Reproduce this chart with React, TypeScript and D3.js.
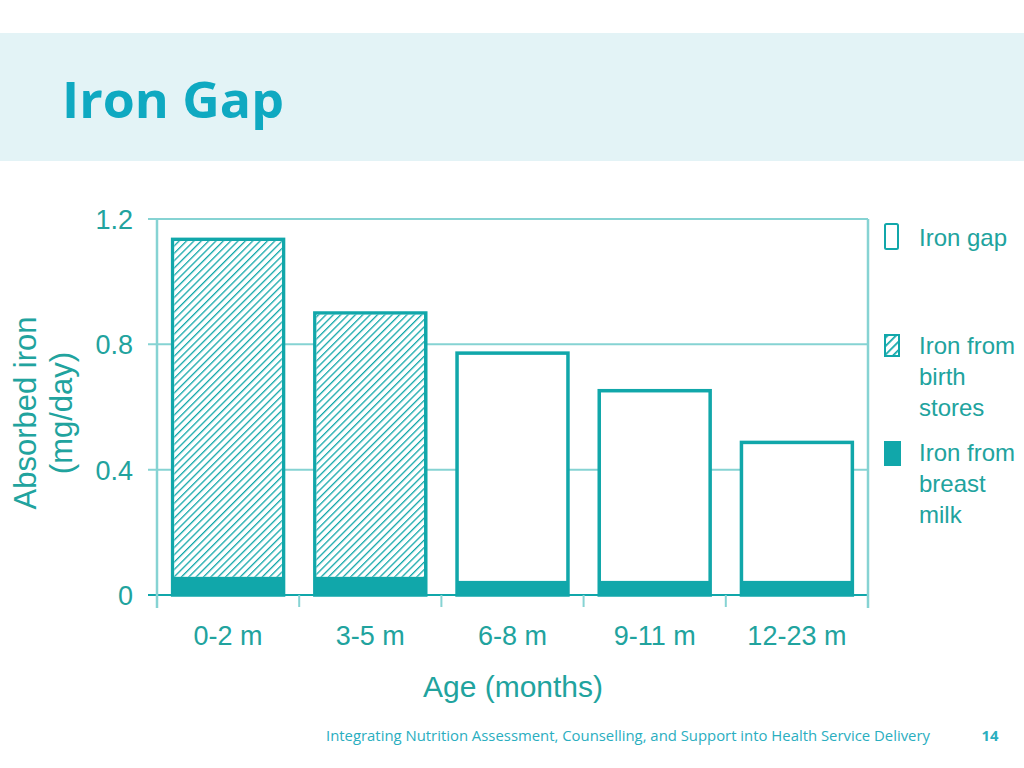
import React from "react";
import * as d3 from "d3";

const categories = ["0-2 m", "3-5 m", "6-8 m", "9-11 m", "12-23 m"];
const totalValues = [1.135, 0.9, 0.772, 0.652, 0.487];
const breastMilk = [0.058, 0.058, 0.045, 0.045, 0.045];
const birthStores = [1.077, 0.842, 0, 0, 0];
const yTicks = [0, 0.4, 0.8, 1.2];
const yTickLabels = ["0", "0.4", "0.8", "1.2"];
const legendItems = [
  { key: "gap", lines: ["Iron gap"] },
  { key: "birth", lines: ["Iron from", "birth", "stores"] },
  { key: "milk", lines: ["Iron from", "breast", "milk"] },
];

const TEAL = "#11a7aa";
const GRID = "#86d3d3";
const TEXT = "#21a39e";

export default function App() {
  const left = 157, right = 868, top = 219, bottom = 595;
  const x = d3.scaleBand<string>().domain(categories).range([left, right]).paddingInner(0.22).paddingOuter(0.11);
  const xOuter = d3.scaleBand<string>().domain(categories).range([left, right]);
  const y = d3.scaleLinear().domain([0, 1.2]).range([bottom, top]);
  const font = "'Liberation Sans', Arial, sans-serif";

  const legendY = [237, 345, 452];

  return (
    <svg width={1024} height={768} style={{ position: "absolute", left: 0, top: 0, background: "#fff" }}>
      <defs>
        <pattern id="hatch" patternUnits="userSpaceOnUse" width={5.2} height={5.2} patternTransform="rotate(45)">
          <rect width={5.2} height={5.2} fill="#fff" />
          <line x1={0} y1={0} x2={0} y2={5.2} stroke={TEAL} strokeWidth={2.6} />
        </pattern>
        <pattern id="hatchSmall" patternUnits="userSpaceOnUse" width={6} height={6} patternTransform="rotate(45)">
          <rect width={6} height={6} fill="#fff" />
          <line x1={0} y1={0} x2={0} y2={6} stroke={TEAL} strokeWidth={3.5} />
        </pattern>
      </defs>
      <rect x={0} y={33} width={1024} height={128} fill="#e3f3f6" />
      <text x={62} y={118} fontFamily="'Open Sans', sans-serif" fontWeight={700} fontSize={51} fill="#0fa9c1" textLength={222} lengthAdjust="spacingAndGlyphs">Iron Gap</text>

      {/* gridlines */}
      {yTicks.map((t, i) => (
        <line key={"g" + i} x1={148} x2={right} y1={y(t)} y2={y(t)} stroke={i === 0 ? TEAL : GRID} strokeWidth={2} />
      ))}
      <line x1={left} x2={left} y1={top} y2={bottom + 13} stroke={GRID} strokeWidth={2.5} />
      <line x1={right} x2={right} y1={top} y2={bottom + 13} stroke={GRID} strokeWidth={2.5} />
      {categories.slice(1).map((c) => (
        <line key={"t" + c} x1={xOuter(c)!} x2={xOuter(c)!} y1={bottom} y2={bottom + 12} stroke={GRID} strokeWidth={2} />
      ))}

      {/* bars */}
      {categories.map((c, i) => {
        const bx = x(c)!;
        const bw = x.bandwidth();
        return (
          <g key={c}>
            <rect x={bx} y={y(totalValues[i])} width={bw} height={y(0) - y(totalValues[i])} fill="#fff" stroke={TEAL} strokeWidth={3.5} />
            {birthStores[i] > 0 && (
              <rect x={bx + 1.75} y={y(totalValues[i]) + 1.75} width={bw - 3.5} height={y(breastMilk[i]) - y(totalValues[i]) - 1.75} fill="url(#hatch)" />
            )}
            <rect x={bx} y={y(breastMilk[i])} width={bw} height={y(0) - y(breastMilk[i])} fill={TEAL} />
          </g>
        );
      })}

      {/* y tick labels */}
      {yTicks.map((t, i) => (
        <text key={"yl" + i} x={133} y={y(t) + 10} textAnchor="end" fontFamily={font} fontSize={27} fill={TEXT}>{yTickLabels[i]}</text>
      ))}
      <text transform="translate(36,413) rotate(-90)" textAnchor="middle" fontFamily={font} fontSize={31} fill={TEXT}>Absorbed iron</text>
      <text transform="translate(72,413) rotate(-90)" textAnchor="middle" fontFamily={font} fontSize={31} fill={TEXT}>(mg/day)</text>

      {/* x labels */}
      {categories.map((c) => (
        <text key={"xl" + c} x={xOuter(c)! + xOuter.bandwidth() / 2} y={645} textAnchor="middle" fontFamily={font} fontSize={27} fill={TEXT}>{c}</text>
      ))}
      <text x={513} y={697} textAnchor="middle" fontFamily={font} fontSize={30} fill={TEXT}>Age (months)</text>

      {/* legend */}
      {legendItems.map((it, i) => (
        <g key={it.key}>
          {it.key === "gap" && <rect x={885} y={legendY[i] - 13} width={13} height={25} rx={1.5} fill="#fff" stroke={TEAL} strokeWidth={2} />}
          {it.key === "birth" && <rect x={885} y={legendY[i] - 10} width={14} height={21} fill="url(#hatchSmall)" stroke={TEAL} strokeWidth={2} />}
          {it.key === "milk" && <rect x={884} y={legendY[i] - 11} width={17} height={25} fill={TEAL} />}
          {it.lines.map((ln, j) => (
            <text key={j} x={919} y={legendY[i] + 9 + j * 31} fontFamily={font} fontSize={24} fill={TEXT}>{ln}</text>
          ))}
        </g>
      ))}

      <text x={326} y={741} fontFamily="'Open Sans', sans-serif" fontSize={14.8} fill="#2aaebf" textLength={604} lengthAdjust="spacingAndGlyphs">Integrating Nutrition Assessment, Counselling, and Support into Health Service Delivery</text>
      <text x={990} y={741} textAnchor="middle" fontFamily="'Open Sans', sans-serif" fontWeight={700} fontSize={14.8} fill="#2aaebf">14</text>
    </svg>
  );
}
